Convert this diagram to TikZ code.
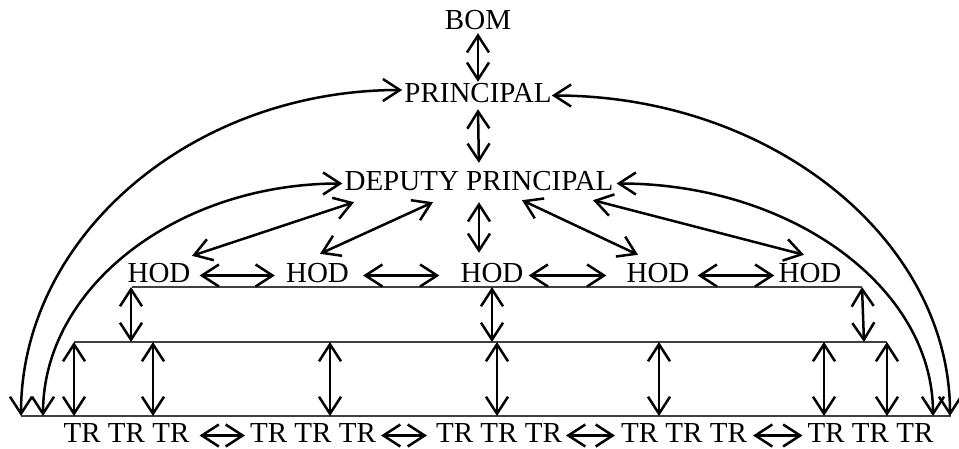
\documentclass[tikz,border=0pt]{standalone}
\usepackage{fontspec}
\setmainfont{Liberation Serif}
\usetikzlibrary{arrows.meta}
\begin{document}
\begin{tikzpicture}[x=1pt,y=-1pt,
  lbl/.style={inner sep=0pt, anchor=base, font=\fontsize{29}{34}\selectfont, text height=20pt, text depth=7pt},
  arr/.style={line width=2.5pt, {Straight Barb[length=17pt,width=22pt]}-{Straight Barb[length=17pt,width=22pt]}},
  rulel/.style={line width=1.5pt, black!75}]
\useasboundingbox (0,0) rectangle (959,448);
% text nodes
\node[lbl] (bom) at (478,29) {BOM};
\node[lbl] (pr) at (478,102) {PRINCIPAL};
\node[lbl] (dp) at (479,190) {DEPUTY PRINCIPAL};
\node[lbl] (h1) at (159,282) {HOD};
\node[lbl] (h2) at (317.5,282) {HOD};
\node[lbl] (h3) at (492,282) {HOD};
\node[lbl] (h4) at (658,282) {HOD};
\node[lbl] (h5) at (810,282) {HOD};
\node[lbl] (t1) at (126.5,442) {TR TR TR};
\node[lbl] (t2) at (313,442) {TR TR TR};
\node[lbl] (t3) at (499,442) {TR TR TR};
\node[lbl] (t4) at (684,442) {TR TR TR};
\node[lbl] (t5) at (870.5,442) {TR TR TR};
% rule lines
\coordinate (l1a) at (132,287); \coordinate (l1b) at (862,287);
\coordinate (l2a) at (74,342);  \coordinate (l2b) at (887,342);
\coordinate (l3a) at (21,416);  \coordinate (l3b) at (951,416);
\draw[rulel] (l1a) -- (l1b);
\draw[rulel] (l2a) -- (l2b);
\draw[rulel] (l3a) -- (l3b);
% vertical chain
\draw[arr, shorten <=-3pt] (bom.south) -- (pr.north);
\draw[arr, shorten >=7pt] (pr.south) -- (dp.north);
\draw[arr, shorten <=5pt, shorten >=9pt] (dp.south) -- (dp.south |- h3.north);
% deputy to HODs
\draw[arr] ([xshift=-125pt,yshift=-5pt]dp.south) -- ([xshift=33pt,yshift=6pt]h1.north);
\draw[arr] ([xshift=-46pt,yshift=-5pt]dp.south) -- ([xshift=2.5pt,yshift=8pt]h2.north);
\draw[arr] ([xshift=43pt,yshift=-3pt]dp.south) -- ([xshift=-20pt,yshift=7pt]h4.north);
\draw[arr] ([xshift=114pt,yshift=-3pt]dp.south) -- ([xshift=-6pt,yshift=7pt]h5.north);
% HOD row arrows
\draw[arr, shorten <=9pt, shorten >=11pt] (h1.east) -- (h2.west);
\draw[arr, shorten <=14pt, shorten >=21pt] (h2.east) -- (h3.west);
\draw[arr, shorten <=5pt, shorten >=20pt] (h3.east) -- (h4.west);
\draw[arr, shorten <=8pt, shorten >=4pt] (h4.east) -- (h5.west);
% TR row arrows
\draw[arr, shorten <=10pt, shorten >=5pt] (t1.east) -- (t2.west);
\draw[arr, shorten <=5pt, shorten >=9pt] (t2.east) -- (t3.west);
\draw[arr, shorten <=4pt, shorten >=6pt] (t3.east) -- (t4.west);
\draw[arr, shorten <=6pt, shorten >=5pt] (t4.east) -- (t5.west);
% arrows between rule lines
\draw[arr] (131,287) -- (131,342);
\draw[arr] (492,287) -- (492,342);
\draw[arr] (862,287) -- (864,342);
\foreach \x in {74,153,330,497,659,824,887}
  \draw[arr] (\x,342) -- (\x,416);
% big curves
\coordinate (bo1) at (21,416);
\coordinate (bi1) at (43,416);
\coordinate (bi2) at (933,416);
\coordinate (bo2) at (950,416);
\draw[arr] (bo1) .. controls +(0,-180) and +(-210,0) .. ([xshift=-2pt,yshift=5.5pt]pr.west);
\draw[arr] (bi1) .. controls +(0,-129) and +(-165,0) .. ([xshift=-2pt]dp.west);
\draw[arr] (pr.east) .. controls +(219,0) and +(0,-177) .. (bo2);
\draw[arr] ([xshift=3pt]dp.east) .. controls +(174,0) and +(0,-129) .. (bi2);
\end{tikzpicture}
\end{document}
